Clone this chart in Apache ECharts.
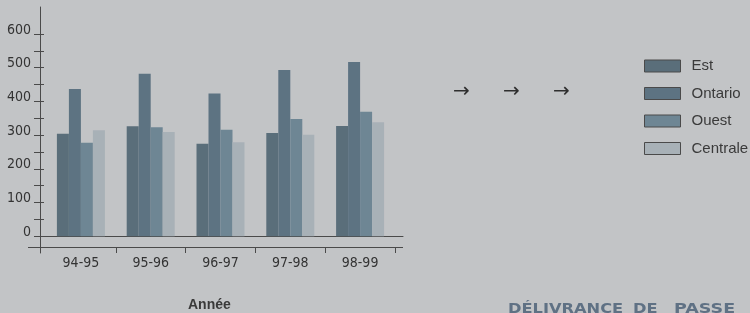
<!DOCTYPE html>
<html>
<head>
<meta charset="utf-8">
<script src="https://cdn.jsdelivr.net/npm/echarts@6/dist/echarts.min.js"></script>
<style>html,body{margin:0;padding:0;background:#c2c4c6;}#c{width:750px;height:313px;}</style>
</head>
<body>
<div id="c"></div>
<script>
const categories = ['94-95', '95-96', '96-97', '97-98', '98-99'];
const seriesNames = ['Est', 'Ontario', 'Ouest', 'Centrale'];
const est = [304, 326, 274, 306, 327];
const ontario = [437, 482, 423, 493, 517];
const ouest = [277, 323, 316, 348, 369];
const centrale = [314, 309, 279, 301, 338];
const yTickLabels = [0, 100, 200, 300, 400, 500, 600];
const yTicks = [0, 50, 100, 150, 200, 250, 300, 350, 400, 450, 500, 550, 600];
const arrows = ['→', '→', '→'];
const xTitle = 'Année';
const footerWords = ['DÉLIVRANCE', 'DE', 'PASSE'];

const colors = ['#5a6e7a', '#5d7382', '#6e8694', '#a8b1b7'];
const values = [est, ontario, ouest, centrale];
const axisColor = '#4a4a4a';
const narrow = '"DejaVu Sans Condensed", "Liberation Sans Narrow", sans-serif';
const footerX = [508, 633, 674];
const footerScale = [1.16, 1.16, 1.25];
const footerStyle = {fontSize: 14, fontWeight: 'bold', fontFamily: '"DejaVu Sans", sans-serif', fill: '#5f7184', verticalAlign: 'top'};

const chart = echarts.init(document.getElementById('c'), null, {renderer: 'canvas'});
const option = {
  backgroundColor: '#c2c4c6',
  animation: false,
  title: [
    {text: xTitle, left: 188, top: 298, padding: 0,
     textStyle: {fontSize: 14, fontWeight: 'bold', color: '#3a3a3a', fontFamily: '"Liberation Sans", sans-serif'}}
  ],
  legend: {
    orient: 'vertical', left: 639, top: 53,
    itemWidth: 36, itemHeight: 12, itemGap: 11.5, icon: 'rect',
    itemStyle: {borderColor: '#4a4a4a', borderWidth: 1},
    textStyle: {fontSize: 15, color: '#3a3a3a', fontFamily: '"Liberation Sans", sans-serif', padding: [0, 0, 0, 6], lineHeight: 16},
    data: seriesNames
  },
  grid: [
    {left: 40, right: 347, top: 7, bottom: 60},
    {left: 46, right: 355, top: 7, bottom: 60}
  ],
  xAxis: [
    {gridIndex: 0, type: 'value', min: 0, max: 1,
     axisLine: {show: true, onZero: true, lineStyle: {color: axisColor}},
     axisTick: {show: false}, axisLabel: {show: false}, splitLine: {show: false}},
    {gridIndex: 1, type: 'category', data: categories, position: 'bottom', offset: -6,
     axisLine: {show: false, onZero: false},
     axisTick: {show: true, length: 6, interval: function (i) { return i > 0; }, lineStyle: {color: axisColor}},
     axisLabel: {margin: 9, fontSize: 14, color: '#333', fontFamily: narrow},
     splitLine: {show: false}}
  ],
  yAxis: [
    {gridIndex: 0, type: 'value', position: 'left', min: -50, max: 680,
     axisLine: {show: true, lineStyle: {color: axisColor}},
     axisTick: {show: true, length: 6, customValues: yTicks, lineStyle: {color: axisColor}},
     axisLabel: {customValues: yTickLabels, margin: 9, fontSize: 14, color: '#333', fontFamily: narrow,
                 verticalAlign: 'bottom', lineHeight: 8},
     splitLine: {show: false}},
    {gridIndex: 0, type: 'value', position: 'left', min: -50, max: 680,
     axisLine: {show: false},
     axisTick: {show: true, inside: true, length: 4, customValues: yTicks, lineStyle: {color: axisColor}},
     axisLabel: {show: false}, splitLine: {show: false}},
    {gridIndex: 1, type: 'value', min: -50, max: 680, show: false}
  ],
  graphic: [
    {type: 'line', shape: {x1: 28, y1: 247.5, x2: 403, y2: 247.5}, style: {stroke: axisColor, lineWidth: 1}, z: 10},
    {type: 'text', x: 453, y: 92, style: {text: arrows[0], fontSize: 20, fontFamily: '"DejaVu Sans", sans-serif', fill: '#2f2f2f', verticalAlign: 'middle'}},
    {type: 'text', x: 503, y: 92, style: {text: arrows[1], fontSize: 20, fontFamily: '"DejaVu Sans", sans-serif', fill: '#2f2f2f', verticalAlign: 'middle'}},
    {type: 'text', x: 553, y: 92, style: {text: arrows[2], fontSize: 20, fontFamily: '"DejaVu Sans", sans-serif', fill: '#2f2f2f', verticalAlign: 'middle'}}
  ].concat(footerWords.map((w, i) => ({
    type: 'text', x: footerX[i], y: 302, scaleX: footerScale[i],
    style: Object.assign({text: w}, footerStyle)
  }))),
  series: seriesNames.map((name, i) => ({
    name: name, type: 'bar', xAxisIndex: 1, yAxisIndex: 2,
    data: values[i], barWidth: 12, barGap: '0%',
    itemStyle: {color: colors[i]}
  }))
};
chart.setOption(option);
</script>
</body>
</html>
